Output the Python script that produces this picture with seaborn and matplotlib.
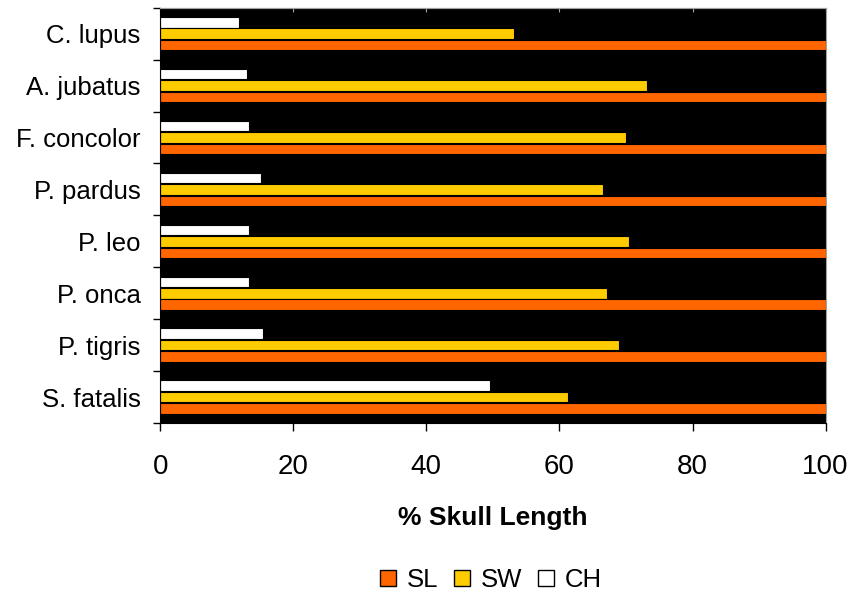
import matplotlib.pyplot as plt
import seaborn as sns
import pandas as pd
from matplotlib.patches import Patch

# values (% of skull length)
species = ['C. lupus', 'A. jubatus', 'F. concolor', 'P. pardus',
           'P. leo', 'P. onca', 'P. tigris', 'S. fatalis']
sl = [100, 100, 100, 100, 100, 100, 100, 100]
sw = [53.2, 73.1, 70.0, 66.5, 70.4, 67.1, 68.9, 61.3]
ch = [11.9, 13.1, 13.3, 15.2, 13.3, 13.3, 15.5, 49.6]
x_ticks = [0, 20, 40, 60, 80, 100]

colors = {'SL': '#FF6600', 'SW': '#FFCC00', 'CH': '#FFFFFF'}

df = pd.DataFrame({
    'species': species * 3,
    'value': ch + sw + sl,
    'measure': ['CH'] * len(ch) + ['SW'] * len(sw) + ['SL'] * len(sl),
})

sns.set_style('white')
plt.rcParams['font.family'] = ['Liberation Sans', 'DejaVu Sans']
plt.rcParams['text.color'] = 'black'
plt.rcParams['axes.labelcolor'] = 'black'

fig = plt.figure(figsize=(8.52, 6), dpi=100)
ax = fig.add_axes([0.188, 0.295, 0.781, 0.692])

# bars: CH on top, SW in the middle, SL at the bottom of each group
sns.barplot(data=df, x='value', y='species', hue='measure',
            hue_order=['CH', 'SW', 'SL'], order=species, palette=colors,
            saturation=1, width=0.66, gap=0.08, edgecolor='black',
            linewidth=0.8, orient='h', ax=ax, legend=False)

ax.set_facecolor('black')
ax.set_xlim(0, 100)
ax.set_ylim(len(species) - 0.5, -0.5)

ax.set_yticks(range(len(species)), species)
ax.set_yticks([i - 0.5 for i in range(len(species) + 1)], minor=True)
ax.tick_params(axis='y', which='major', length=0, pad=14, labelsize=18.5,
               labelcolor='black')
ax.tick_params(axis='y', which='minor', left=True, length=5, width=1,
               color='black', direction='out')

ax.set_xticks(x_ticks)
ax.tick_params(axis='x', which='major', bottom=True, length=6, width=1,
               color='black', direction='out', pad=16, labelsize=20,
               labelcolor='black')

for side in ['left', 'bottom']:
    ax.spines[side].set_color('black')
for side in ['right', 'top']:
    ax.spines[side].set_color('#a0a0a0')

# small grey tick stubs along the top edge
sec = ax.secondary_xaxis('top')
sec.set_xticks(x_ticks)
sec.tick_params(direction='in', length=3, color='#a0a0a0', labeltop=False)
sec.spines['top'].set_color('#a0a0a0')

ax.set_xlabel('% Skull Length', fontsize=19, fontweight='bold', labelpad=19)
ax.set_ylabel('')

handles = [Patch(facecolor=colors[k], edgecolor='black', label=k)
           for k in ['SL', 'SW', 'CH']]
fig.legend(handles=handles, loc='center', bbox_to_anchor=(0.576, 0.033),
           ncol=3, frameon=False, fontsize=18.5, handlelength=0.62,
           handleheight=0.62, handletextpad=0.42, columnspacing=0.62)

plt.savefig('out.png', dpi=100)
